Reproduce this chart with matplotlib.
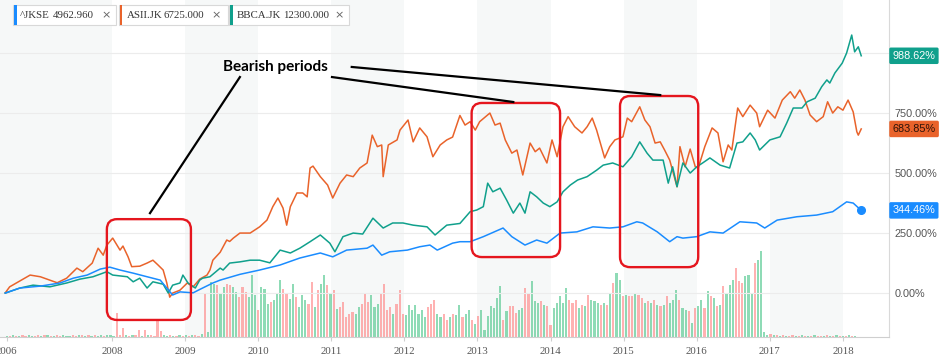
import matplotlib.pyplot as plt
import matplotlib.transforms as mtransforms
import numpy as np
from matplotlib.patches import FancyBboxPatch, Rectangle

W, H = 939, 362

# cumulative % change, (decimal year, value)
asii_t = [2006.54, 2006.60, 2006.88, 2007.02, 2007.15, 2007.25, 2007.38, 2007.52, 2007.60, 2007.73,
          2007.81, 2007.88, 2007.93, 2008.01, 2008.11, 2008.15, 2008.22, 2008.27, 2008.38, 2008.48,
          2008.56, 2008.63, 2008.70, 2008.75, 2008.79, 2008.83, 2008.93, 2009.03, 2009.11, 2009.20,
          2009.30, 2009.34, 2009.38, 2009.48, 2009.57, 2009.61, 2009.66, 2009.75, 2009.89, 2010.02,
          2010.12, 2010.20, 2010.27, 2010.34, 2010.39, 2010.44, 2010.53, 2010.61, 2010.67, 2010.71,
          2010.75, 2010.85, 2010.95, 2011.02, 2011.12, 2011.21, 2011.30, 2011.39, 2011.49, 2011.56,
          2011.63, 2011.69, 2011.71, 2011.78, 2011.90, 2011.94, 2012.05, 2012.12, 2012.21, 2012.31,
          2012.39, 2012.49, 2012.58, 2012.66, 2012.76, 2012.83, 2012.90, 2012.97, 2013.03, 2013.17,
          2013.24, 2013.31, 2013.38, 2013.47, 2013.54, 2013.62, 2013.72, 2013.79, 2013.85, 2013.95,
          2014.02, 2014.09, 2014.17, 2014.24, 2014.33, 2014.43, 2014.50, 2014.57, 2014.63, 2014.74,
          2014.81, 2014.88, 2014.99, 2015.05, 2015.11, 2015.22, 2015.29, 2015.36, 2015.43, 2015.50,
          2015.56, 2015.63, 2015.73, 2015.77, 2015.84, 2015.91, 2015.98, 2016.02, 2016.11, 2016.21,
          2016.29, 2016.36, 2016.43, 2016.48, 2016.56, 2016.63, 2016.73, 2016.82, 2016.86, 2016.97,
          2017.07, 2017.17, 2017.28, 2017.34, 2017.41, 2017.48, 2017.55, 2017.64, 2017.73, 2017.79,
          2017.86, 2017.93, 2018.00, 2018.07, 2018.14, 2018.19, 2018.21, 2018.25]
asii_v = [1, 26, 75, 68, 54, 43, 62, 104, 89, 125,
          187, 158, 200, 229, 179, 196, 151, 110, 112, 125,
          137, 117, 96, 42, -17, 0, 12, 42, 26, 58,
          75, 96, 137, 170, 221, 215, 229, 250, 250, 276,
          304, 360, 396, 354, 283, 360, 417, 417, 401, 521,
          529, 485, 450, 396, 458, 492, 485, 521, 542, 658,
          610, 617, 485, 617, 638, 679, 721, 630, 688, 651,
          568, 617, 638, 650, 740, 700, 714, 679, 714, 750,
          700, 708, 638, 583, 596, 492, 625, 589, 604, 542,
          638, 568, 693, 735, 693, 667, 693, 729, 679, 563,
          610, 638, 651, 729, 714, 776, 721, 693, 625, 630,
          596, 554, 443, 610, 526, 600, 526, 521, 610, 688,
          667, 547, 617, 596, 771, 735, 783, 750, 693, 762,
          729, 804, 839, 812, 846, 804, 742, 714, 735, 797,
          750, 776, 762, 804, 755, 672, 658, 683.85]

bbca_t = [2006.54, 2006.74, 2006.92, 2007.15, 2007.38, 2007.56, 2007.74, 2007.93, 2008.01, 2008.21,
          2008.29, 2008.38, 2008.48, 2008.56, 2008.70, 2008.77, 2008.83, 2008.93, 2008.97, 2009.04,
          2009.14, 2009.20, 2009.24, 2009.34, 2009.48, 2009.52, 2009.61, 2009.75, 2009.89, 2010.02,
          2010.16, 2010.30, 2010.44, 2010.57, 2010.71, 2010.85, 2010.98, 2011.05, 2011.16, 2011.30,
          2011.43, 2011.57, 2011.71, 2011.84, 2011.98, 2012.12, 2012.31, 2012.42, 2012.58, 2012.76,
          2012.90, 2012.99, 2013.08, 2013.14, 2013.21, 2013.31, 2013.40, 2013.49, 2013.58, 2013.65,
          2013.72, 2013.81, 2013.90, 2013.99, 2014.09, 2014.17, 2014.27, 2014.37, 2014.50, 2014.63,
          2014.72, 2014.85, 2014.99, 2015.11, 2015.22, 2015.32, 2015.40, 2015.54, 2015.61, 2015.67,
          2015.73, 2015.81, 2015.91, 2016.00, 2016.08, 2016.18, 2016.32, 2016.45, 2016.55, 2016.63,
          2016.73, 2016.80, 2016.86, 2017.00, 2017.14, 2017.23, 2017.32, 2017.44, 2017.51, 2017.62,
          2017.71, 2017.78, 2017.82, 2017.89, 2017.99, 2018.05, 2018.12, 2018.16, 2018.21, 2018.25]
bbca_v = [0, 21, 33, 26, 42, 58, 68, 89, 75, 68,
          47, 62, 21, 47, 37, 0, 33, 42, 75, 42,
          21, 54, 62, 68, 104, 96, 125, 130, 137, 137,
          126, 179, 167, 187, 214, 242, 208, 172, 235, 250,
          246, 312, 271, 292, 292, 283, 276, 242, 283, 290,
          339, 346, 360, 458, 422, 437, 387, 333, 375, 333,
          422, 401, 375, 360, 380, 422, 450, 471, 485, 512,
          533, 542, 526, 568, 630, 583, 554, 554, 458, 526,
          443, 542, 500, 526, 542, 563, 533, 521, 625, 630,
          667, 638, 596, 638, 651, 708, 771, 771, 797, 812,
          860, 888, 875, 917, 958, 1000, 1075, 1005, 1026, 988.62]

jkse_t = [2006.54, 2006.74, 2007.02, 2007.29, 2007.47, 2007.66, 2007.84, 2007.97, 2008.11, 2008.29,
          2008.48, 2008.66, 2008.75, 2008.83, 2008.93, 2009.11, 2009.20, 2009.38, 2009.48, 2009.57,
          2009.75, 2010.02, 2010.30, 2010.57, 2010.85, 2011.02, 2011.21, 2011.49, 2011.57, 2011.69,
          2011.80, 2012.04, 2012.21, 2012.35, 2012.45, 2012.66, 2012.76, 2012.90, 2013.08, 2013.35,
          2013.47, 2013.65, 2013.81, 2013.95, 2014.13, 2014.36, 2014.58, 2014.81, 2014.99, 2015.18,
          2015.26, 2015.46, 2015.63, 2015.73, 2015.81, 2016.00, 2016.18, 2016.36, 2016.59, 2016.82,
          2016.93, 2017.10, 2017.37, 2017.64, 2017.86, 2018.05, 2018.14, 2018.25]
jkse_v = [0, 21, 29, 42, 62, 75, 100, 108, 96, 83,
          68, 54, 21, -8, 5, 1, 15, 42, 54, 62,
          78, 96, 117, 146, 167, 151, 179, 187, 200, 158,
          172, 179, 193, 200, 179, 208, 214, 214, 235, 271,
          235, 200, 221, 208, 250, 255, 276, 271, 276, 297,
          292, 255, 214, 235, 229, 235, 255, 250, 297, 292,
          271, 304, 318, 325, 339, 380, 375, 344.46]

# trading volume (arbitrary units), one bar per period
vol_start, vol_step = 2006.56, 0.043
vol_pre = [1, 1, 2, 1, 1, 2, 1, 2, 1, 1, 2, 1, 2, 2, 1, 1, 2, 1, 2, 1,
           1, 2, 1, 2, 2, 1, 2, 1, 2, 1, 2, 1, 2, 2, 1, 24, 2, 9, 2, 1,
           2, 2, 7, 1, 7, 2, 2, 1, 16, 6, 2, 1, 2, 1, 1, 2, 1, 2, 1, 2,
           2, 1, 3]
dir_pre = "grgrgrrggrrgrgrgrrgggrrgrgrgrggrgggrrrgrgrrgrgrrrrggrgrgrgrgrrg"
vol_main = [43, 5, 55, 53, 52, 43, 50, 53, 52, 50, 45, 40, 50, 45, 40, 62, 42, 27, 50, 48,
            33, 35, 37, 43, 57, 48, 43, 38, 53, 40, 30, 42, 37, 33, 55, 30, 47, 53, 62, 52,
            43, 47, 28, 30, 35, 20, 23, 25, 23, 30, 33, 43, 35, 42, 30, 33, 43, 53, 27, 30,
            23, 33, 47, 23, 22, 32, 27, 32, 23, 27, 20, 30, 33, 37, 23, 20, 23, 17, 20, 23,
            22, 32, 20, 23, 27, 17, 13,
            21, 27, 7, 21, 31, 29, 39, 51, 17, 26, 31, 31, 24, 27, 29, 49, 44, 56, 36, 34,
            36, 32, 31, 12, 29, 34, 41, 34, 49, 37, 34, 37, 29, 32, 31, 42, 37, 36, 34, 32,
            34, 32, 44, 54, 64, 57, 41, 42, 41, 41, 44, 42, 39, 34, 36, 34, 37, 32, 31, 32,
            41, 34, 37, 47, 37, 29, 27, 26, 14, 29, 31, 37, 29, 46, 41, 39, 31, 32, 51, 44,
            52, 57, 69, 56, 54, 61, 62, 44, 74, 77, 86]
dir_main = ("rgggrggrrggrrrgggrgggrgggrrggrgggrrgrggrgrgrrrrrggrrrgggrrrrgrrrgggggggrrrggrrgrggrggrgr"
            "gggggggrgrrrggrrgggrgrrgggggrrrgrgrgggrgrgrggrgrrgrrgrgrgrgrgggrggrgrggrgrgrgrgggrrrgggrggggrrr")
vol_post = [5, 2, 3, 2, 2, 1, 2, 1, 1, 2, 1, 1, 2, 1, 1, 1, 2, 1, 1, 1, 2, 1, 1, 2, 1, 1, 1, 2, 1, 1]
dir_post = "ggrgrgrgrrgrgrgrgrrgrgrgrgrgrg"

tickers = ["^JKSE", "ASII.JK", "BBCA.JK"]
prices = ["4962.960", "6725.000", "12300.000"]
year_ticks = list(range(2008, 2019))
y_ticks = [0, 250, 500, 750]

c_jkse, c_asii, c_bbca = "#1a8cff", "#e9632b", "#10a08c"

fig = plt.figure(figsize=(W / 100, H / 100), dpi=100)
rect = [0, 25 / H, 889 / W, 337 / H]
ax_vol = fig.add_axes(rect)
ax = fig.add_axes(rect, sharex=ax_vol)
ax.patch.set_visible(False)

x0, x1 = 2006.468, 2018.63
ax_vol.set_xlim(x0, x1)
ax.set_ylim(-183, 1221)

# alternating year bands (first one runs from the left edge)
for y in range(2007, 2019, 2):
    ax_vol.axvspan(x0 if y == 2007 else y, y + 1, color="#f6f8f8", lw=0, zorder=0)

vols = vol_pre + vol_main + vol_post
dirs = dir_pre[:len(vol_pre)] + dir_main[:len(vol_main)] + dir_post[:len(vol_post)]
dirs = dirs.ljust(len(vols), "g")
vol_dates = vol_start + vol_step * np.arange(len(vols))
vol_cols = ["#45c486" if d == "g" else "#ff7f7f" for d in dirs]
ax_vol.bar(vol_dates, vols, width=vol_step * 0.7, color=vol_cols, alpha=0.6, lw=0, zorder=2)
ax_vol.set_ylim(0, 337)
ax_vol.axis("off")

for v in [0, 250, 500, 750, 1000]:
    ax.axhline(v, color="#ececec", lw=0.8, zorder=0)

ax.plot(asii_t, asii_v, color=c_asii, lw=1.1, zorder=3)
ax.plot(bbca_t, bbca_v, color=c_bbca, lw=1.1, zorder=4)
ax.plot(jkse_t, jkse_v, color=c_jkse, lw=1.1, zorder=5)
ax.plot(jkse_t[-1], jkse_v[-1], "o", ms=5.5, color=c_jkse, zorder=6)

for s in ["top", "left"]:
    ax.spines[s].set_visible(False)
ax.spines["right"].set_color("#d9d9d9")
ax.spines["bottom"].set_color("#cfcfcf")

ax.yaxis.tick_right()
ax.set_yticks(y_ticks)
ax.set_yticklabels([f"{v:.2f}%" for v in y_ticks], family="Liberation Sans", fontsize=7.8, color="#555555")
ax.tick_params(axis="y", length=0, pad=4)

ax.set_xticks([vol_start] + year_ticks)
ax.set_xticklabels([""] + [str(y) for y in year_ticks], family="Liberation Serif", fontsize=7.8, color="#555555")
ax.tick_params(axis="x", length=3, color="#cfcfcf", pad=4)
# first year label is cut by the left edge, only its end shows
xb = mtransforms.blended_transform_factory(ax.transData, ax.transAxes)
ax.text(x0 + 17.5 / 73.1, -9.7 / 337, "2006", transform=xb, ha="right", va="top",
        family="Liberation Serif", fontsize=7.8, color="#555555", clip_on=False)

# last value tags on the right
blend = mtransforms.blended_transform_factory(ax.transAxes, ax.transData)
for val, col, tc in [(bbca_v[-1], c_bbca, "white"), (asii_v[-1], c_asii, "#2b1208"), (jkse_v[-1], c_jkse, "white")]:
    ax.text(1.0 + 3.5 / 889, val, f"{val:.2f}%", transform=blend, ha="left", va="center",
            family="Liberation Sans", fontsize=7.8, color=tc, zorder=10, clip_on=False,
            bbox=dict(boxstyle="round,pad=0.3,rounding_size=0.15", fc=col, ec="none"))

# annotation: red boxes around bearish periods
aspect = (889 / (x1 - x0)) / (337 / (1221 + 183))
boxes = [(2007.93, -112, 2009.08, 308), (2012.92, 150, 2014.13, 792), (2014.95, 108, 2016.02, 821)]
for bx0, by0, bx1, by1 in boxes:
    ax.add_patch(FancyBboxPatch((bx0, by0), bx1 - bx0, by1 - by0,
                                boxstyle="round,pad=0,rounding_size=0.14", mutation_aspect=aspect,
                                fc="none", ec="#e5161e", lw=1.7, zorder=8, clip_on=False))

ax.text(2010.24, 942, "Bearish periods", ha="center", va="center", family="Lato",
        fontweight="bold", fontsize=11, color="black", zorder=9)
for (ax0, ay0), (ax1, ay1) in [((2009.75, 900), (2008.52, 333)),
                               ((2011.28, 942), (2015.50, 825)),
                               ((2011.01, 900), (2013.49, 796))]:
    ax.plot([ax0, ax1], [ay0, ay1], color="black", lw=1.6, zorder=9, clip_on=False)

# legend chips at the top
chips = [(13, 116, 20, 53, 106, c_jkse), (119, 228, 127, 164, 216, c_asii), (229, 349, 237, 283, 339, c_bbca)]
for (cx0, cx1, nx, px, xx, col), name, price in zip(chips, tickers, prices):
    fig.add_artist(Rectangle((cx0 / W, 1 - 25 / H), (cx1 - cx0) / W, 20 / H, transform=fig.transFigure,
                             fc="white", ec="#d8d8d8", lw=0.8, zorder=20))
    fig.add_artist(Rectangle(((cx0 + 1) / W, 1 - 24.5 / H), 2.5 / W, 19 / H, transform=fig.transFigure,
                             fc=col, ec="none", zorder=21))
    fig.text(nx / W, 1 - 15 / H, name, family="Liberation Serif", fontsize=7.8, color="#333333",
             va="center", ha="left", zorder=22)
    fig.text(px / W, 1 - 15 / H, price, family="Liberation Serif", fontsize=7.8, color="#333333",
             va="center", ha="left", zorder=22)
    fig.text(xx / W, 1 - 15 / H, "×", family="DejaVu Sans", fontsize=8, color="#666666",
             va="center", ha="center", zorder=22)

fig.savefig("out.png", dpi=100)
